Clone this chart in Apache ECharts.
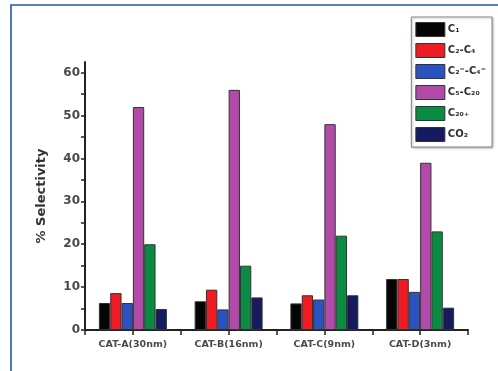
<!DOCTYPE html>
<html>
<head>
<meta charset="utf-8">
<script src="https://cdn.jsdelivr.net/npm/echarts@6/dist/echarts.min.js"></script>
<style>
  html, body { margin: 0; padding: 0; background: #fff; }
  #chart { width: 498px; height: 371px; }
</style>
</head>
<body>
<div id="chart"></div>
<script>
// Catalysts along the x axis
const categories = ['CAT-A(30nm)', 'CAT-B(16nm)', 'CAT-C(9nm)', 'CAT-D(3nm)'];

// Product selectivity (%) per catalyst
const seriesNames = ['C₁', 'C₂-C₄', 'C₂⁼-C₄⁼', 'C₅-C₂₀', 'C₂₀₊', 'CO₂'];
const c1      = [6.3, 6.7, 6.2, 11.9];
const c2c4    = [8.6, 9.4, 8.1, 11.9];
const c2c4ene = [6.3, 4.8, 7.1, 8.9];
const c5c20   = [52, 56, 48, 39];
const c20plus = [20, 15, 22, 23];
const co2     = [4.9, 7.6, 8.1, 5.2];
const values = [c1, c2c4, c2c4ene, c5c20, c20plus, co2];

const colors = ['#050505', '#ee1d25', '#2b52be', '#b24aa9', '#0b8a43', '#161a5e'];

const chart = echarts.init(document.getElementById('chart'));

const series = seriesNames.map((name, i) => ({
  name: name,
  type: 'bar',
  data: values[i],
  xAxisIndex: 0,
  barGap: '0%',
  barCategoryGap: '29%',
  itemStyle: { color: colors[i], borderColor: '#333', borderWidth: 1 }
}));

chart.setOption({
  animation: false,
  backgroundColor: '#fff',
  graphic: [{
    type: 'polyline',
    shape: { points: [[11, 380], [11, 5], [510, 5]] },
    style: { stroke: '#1f5aa6', lineWidth: 1.6, fill: null },
    silent: true
  }],
  legend: {
    orient: 'vertical',
    right: 6,
    top: 17,
    icon: 'rect',
    itemWidth: 29,
    itemHeight: 14,
    itemGap: 6,
    padding: [5, 6, 5, 4],
    borderColor: '#888',
    borderWidth: 1,
    shadowColor: 'rgba(0,0,0,0.25)',
    shadowBlur: 2,
    shadowOffsetX: 1,
    shadowOffsetY: 1,
    backgroundColor: '#fff',
    itemStyle: { borderColor: '#333', borderWidth: 1 },
    textStyle: { fontFamily: 'DejaVu Sans', fontWeight: 'bold', fontSize: 10, color: '#333', padding: [0, 0, 0, -2] },
    data: seriesNames
  },
  grid: { left: 85, right: 30, top: 62, bottom: 41, containLabel: false },
  xAxis: [{
    type: 'category',
    data: categories,
    axisLine: { show: true, lineStyle: { color: '#222', width: 2 } },
    axisTick: { show: false },
    axisLabel: {
      fontFamily: 'DejaVu Sans', fontWeight: 'bold', fontSize: 9.5, color: '#4a4a4a', margin: 10
    }
  }, {
    type: 'category',
    data: ['', '', '', '', '', '', '', ''],
    position: 'bottom',
    axisLine: { show: false },
    axisTick: { show: true, length: 5, lineStyle: { color: '#222', width: 1.5 } },
    axisLabel: { show: false }
  }],
  yAxis: {
    type: 'value',
    min: 0,
    max: 62.5,
    interval: 5,
    name: '% Selectivity',
    nameLocation: 'middle',
    nameRotate: 90,
    nameGap: 37,
    nameTextStyle: { fontFamily: 'DejaVu Sans', fontWeight: 'bold', fontSize: 13, color: '#333' },
    axisLine: { show: true, lineStyle: { color: '#222', width: 2 } },
    axisTick: { show: true, length: 4, lineStyle: { color: '#222', width: 1.5 } },
    splitLine: { show: false },
    axisLabel: {
      fontFamily: 'DejaVu Sans', fontWeight: 'bold', fontSize: 12, color: '#4a4a4a', margin: 5,
      showMaxLabel: false,
      formatter: v => (v % 10 === 0 ? String(v) : '')
    }
  },
  series: series
});
</script>
</body>
</html>
